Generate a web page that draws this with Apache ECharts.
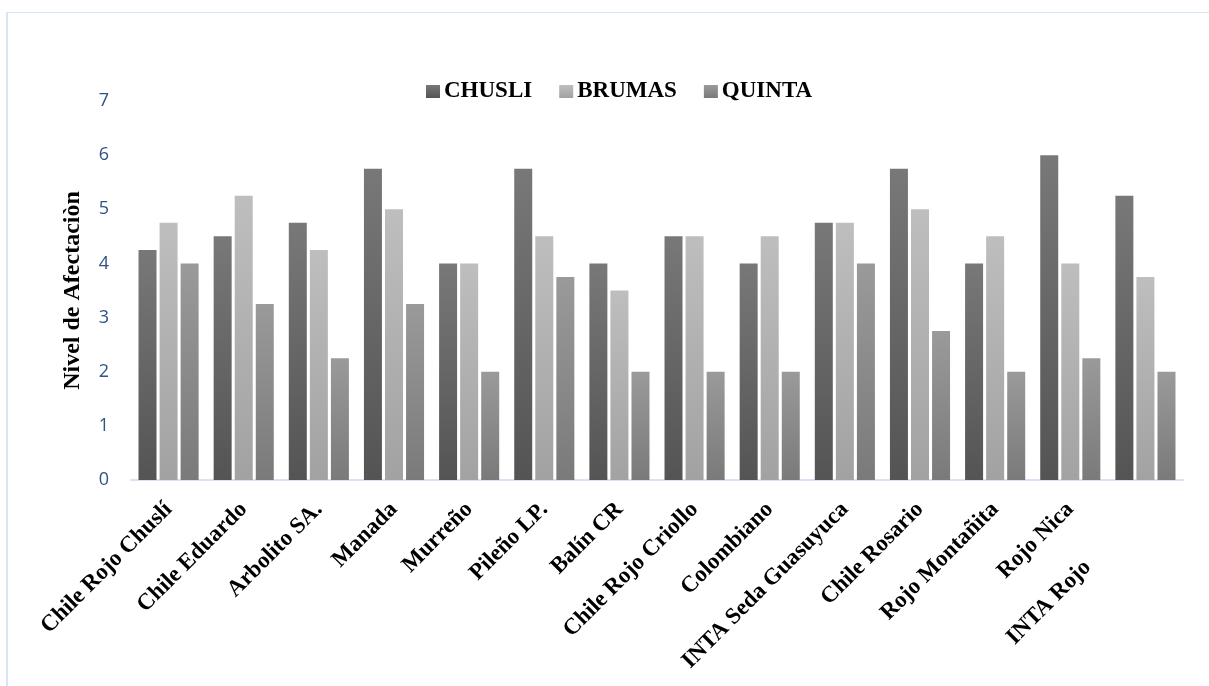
<!DOCTYPE html>
<html>
<head>
<meta charset="utf-8">
<script src="https://cdn.jsdelivr.net/npm/echarts@6/dist/echarts.min.js"></script>
<style>
  html, body { margin: 0; padding: 0; background: #ffffff; }
  #chart { width: 1209px; height: 686px; }
</style>
</head>
<body>
<div id="chart"></div>
<script>
// Pepper varieties and their damage level at each site
const categories = [
  'Chile Rojo Chuslí', 'Chile Eduardo', 'Arbolito SA.', 'Manada', 'Murreño',
  'Pileño LP.', 'Balín CR', 'Chile Rojo Criollo', 'Colombiano',
  'INTA Seda Guasuyuca', 'Chile Rosario', 'Rojo Montañita', 'Rojo Nica', 'INTA Rojo'
];
const chusli = [4.25, 4.5, 4.75, 5.75, 4, 5.75, 4, 4.5, 4, 4.75, 5.75, 4, 6, 5.25];
const brumas = [4.75, 5.25, 4.25, 5, 4, 4.5, 3.5, 4.5, 4.5, 4.75, 5, 4.5, 4, 3.75];
const quinta = [4, 3.25, 2.25, 3.25, 2, 3.75, 2, 2, 2, 4, 2.75, 2, 2.25, 2];
const seriesNames = ['CHUSLI', 'BRUMAS', 'QUINTA'];
const yTicks = [0, 1, 2, 3, 4, 5, 6, 7];

const serif = '"Liberation Serif", "Times New Roman", serif';

function grad(top, bottom) {
  return new echarts.graphic.LinearGradient(0, 0, 0, 1, [
    { offset: 0, color: top },
    { offset: 1, color: bottom }
  ]);
}

const chart = echarts.init(document.getElementById('chart'), null, { renderer: 'canvas' });

const xData = categories.map(function (c, i) {
  // the last label sits further down along its slant
  if (i === categories.length - 1) {
    return { value: c, textStyle: { padding: [0, 82, 0, 0] } };
  }
  return c;
});

chart.setOption({
  backgroundColor: '#ffffff',
  animation: false,
  graphic: [
    { type: 'line', shape: { x1: 7, y1: 12.5, x2: 1209, y2: 12.5 },
      style: { stroke: '#D6E4F5', lineWidth: 1 } },
    { type: 'line', shape: { x1: 7, y1: 12, x2: 7, y2: 686 },
      style: { stroke: '#D6E4F5', lineWidth: 2 } }
  ],
  legend: {
    data: seriesNames,
    top: 75,
    left: 421,
    itemWidth: 14,
    itemHeight: 13,
    itemGap: 27,
    icon: 'rect',
    textStyle: { fontFamily: serif, fontWeight: 'bold', fontSize: 23, color: '#000000', padding: [2, 0, 0, -1] }
  },
  grid: { left: 131, right: 26, top: 101, bottom: 206, containLabel: false },
  xAxis: {
    type: 'category',
    data: xData,
    axisLine: { show: true, lineStyle: { color: '#D9E3F3', width: 2 } },
    axisTick: { show: false },
    axisLabel: {
      interval: 0,
      rotate: 45,
      margin: 26,
      fontFamily: serif,
      fontWeight: 'bold',
      fontSize: 23,
      color: '#000000'
    }
  },
  yAxis: {
    type: 'value',
    min: yTicks[0],
    max: yTicks[yTicks.length - 1],
    interval: 1,
    name: 'Nivel de Afectaciòn',
    nameLocation: 'middle',
    nameGap: 46,
    nameTextStyle: { fontFamily: serif, fontWeight: 'bold', fontSize: 24, color: '#000000' },
    axisLine: { show: false },
    axisTick: { show: false },
    splitLine: { show: false },
    axisLabel: {
      margin: 22,
      fontFamily: '"Open Sans", "Noto Sans", sans-serif',
      fontSize: 18,
      color: '#2E5384'
    }
  },
  series: [
    { name: seriesNames[0], type: 'bar', data: chusli, barGap: '17%', barCategoryGap: '20%',
      itemStyle: { color: grad('#787878', '#545454') } },
    { name: seriesNames[1], type: 'bar', data: brumas, barGap: '17%', barCategoryGap: '20%',
      itemStyle: { color: grad('#BEBEBE', '#A2A2A2') } },
    { name: seriesNames[2], type: 'bar', data: quinta, barGap: '17%', barCategoryGap: '20%',
      itemStyle: { color: grad('#9A9A9A', '#7A7A7A') } }
  ]
});
</script>
</body>
</html>
